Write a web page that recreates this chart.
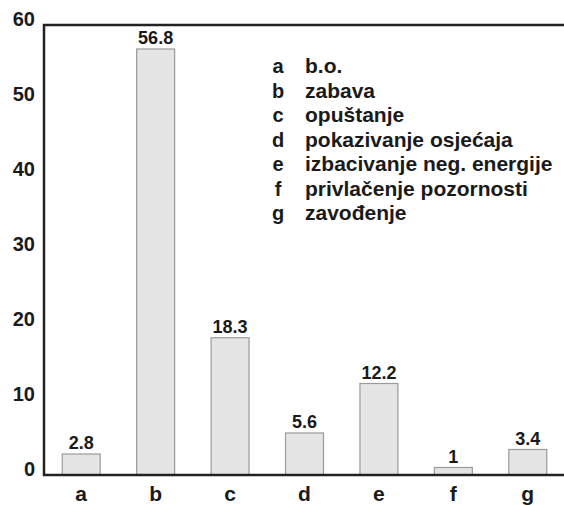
<!DOCTYPE html>
<html>
<head>
<meta charset="utf-8">
<script src="https://cdn.jsdelivr.net/npm/d3@7"></script>
<style>
  body { margin: 0; background: #fff; }
  text { font-family: "Liberation Sans", Arial, sans-serif; font-weight: bold; fill: #1a1a1a; }
</style>
</head>
<body>
<div id="chart"></div>
<script>
// categories and values
const categories = ["a", "b", "c", "d", "e", "f", "g"];
const values = [2.8, 56.8, 18.3, 5.6, 12.2, 1, 3.4];
const valueLabels = ["2.8", "56.8", "18.3", "5.6", "12.2", "1", "3.4"];
const legendNames = [
  "b.o.",
  "zabava",
  "opuštanje",
  "pokazivanje osjećaja",
  "izbacivanje neg. energije",
  "privlačenje pozornosti",
  "zavođenje",
];
const yTicks = [0, 10, 20, 30, 40, 50, 60];

const width = 564,
  height = 505;
const margin = { top: 25, right: 0, bottom: 30, left: 44 };

const svg = d3
  .select("#chart")
  .append("svg")
  .attr("width", width)
  .attr("height", height);

const x = d3
  .scaleBand()
  .domain(categories)
  .range([margin.left, width - margin.right + 1])
  .paddingInner(0.49)
  .paddingOuter(0.245);

const y = d3
  .scaleLinear()
  .domain([0, 60])
  .range([height - margin.bottom, margin.top]);

// bars
svg
  .append("g")
  .selectAll("rect")
  .data(values)
  .join("rect")
  .attr("x", (d, i) => x(categories[i]))
  .attr("y", (d) => y(d))
  .attr("width", x.bandwidth())
  .attr("height", (d) => y(0) - y(d))
  .attr("fill", "#e5e5e5")
  .attr("stroke", "#9a9a9a")
  .attr("stroke-width", 1.2);

// value labels
svg
  .append("g")
  .selectAll("text")
  .data(values)
  .join("text")
  .attr("x", (d, i) => x(categories[i]) + x.bandwidth() / 2)
  .attr("y", (d) => y(d) - 5)
  .attr("text-anchor", "middle")
  .attr("font-size", 18)
  .text((d, i) => valueLabels[i]);

// y axis labels (no tick marks)
svg
  .append("g")
  .selectAll("text")
  .data(yTicks)
  .join("text")
  .attr("x", 35)
  .attr("y", (d) => y(d) + 1)
  .attr("text-anchor", "end")
  .attr("font-size", 20)
  .text((d) => d);

// category labels
svg
  .append("g")
  .selectAll("text")
  .data(categories)
  .join("text")
  .attr("x", (d) => x(d) + x.bandwidth() / 2)
  .attr("y", height - 4)
  .attr("text-anchor", "middle")
  .attr("font-size", 21)
  .text((d) => d);

// frame: left, top, bottom lines
const frame = svg
  .append("g")
  .attr("stroke", "#222")
  .attr("stroke-width", 2.5)
  .attr("fill", "none");
frame
  .append("path")
  .attr(
    "d",
    `M${width},${y(60)}H${margin.left}V${y(0)}H${width}`
  );

// legend
const legend = svg
  .append("g")
  .selectAll("g")
  .data(categories)
  .join("g")
  .attr("transform", (d, i) => `translate(0,${73 + i * 24.5})`);
legend
  .append("text")
  .attr("x", 278)
  .attr("text-anchor", "middle")
  .attr("font-size", 20)
  .text((d) => d);
legend
  .append("text")
  .attr("x", 305)
  .attr("font-size", 21)
  .attr("textLength", (d, i) => null)
  .text((d, i) => legendNames[i]);
</script>
</body>
</html>
